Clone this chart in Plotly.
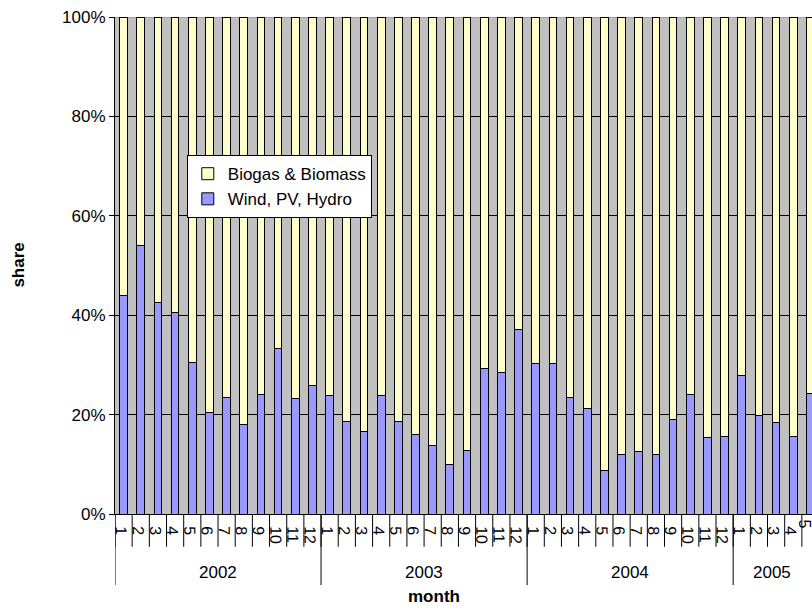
import plotly.graph_objects as go

years = ["2002", "2003", "2004", "2005"]
months_per_year = [12, 12, 12, 5]
month_labels = [str(m) for n in months_per_year for m in range(1, n + 1)]

wind_pv_hydro = [44.0, 54.0, 42.5, 40.5, 30.4, 20.4, 23.5, 18.1, 24.1, 33.4, 23.2, 25.8,
                 23.8, 18.7, 16.7, 23.8, 18.7, 15.9, 13.7, 9.9, 12.7, 29.2, 28.4, 37.2,
                 30.3, 30.3, 23.5, 21.3, 8.7, 11.9, 12.5, 11.9, 19.0, 24.1, 15.4, 15.6,
                 27.8, 19.8, 18.4, 15.6, 24.3]
biogas_biomass = [56.0, 46.0, 57.5, 59.5, 69.6, 79.6, 76.5, 81.9, 75.9, 66.6, 76.8, 74.2,
                  76.2, 81.3, 83.3, 76.2, 81.3, 84.1, 86.3, 90.1, 87.3, 70.8, 71.6, 62.8,
                  69.7, 69.7, 76.5, 78.7, 91.3, 88.1, 87.5, 88.1, 81.0, 75.9, 84.6, 84.4,
                  72.2, 80.2, 81.6, 84.4, 75.7]
y_ticks = [0, 20, 40, 60, 80, 100]
y_tick_labels = ["0%", "20%", "40%", "60%", "80%", "100%"]

FONT = "Liberation Sans, Arial, sans-serif"
x_idx = list(range(len(month_labels)))

fig = go.Figure()
fig.add_trace(go.Bar(x=x_idx, y=wind_pv_hydro, name="Wind, PV, Hydro",
                     marker=dict(color="#9999FF", line=dict(color="#000000", width=1)),
                     width=0.45))
fig.add_trace(go.Bar(x=x_idx, y=biogas_biomass, name="Biogas & Biomass",
                     marker=dict(color="#FFFFCC", line=dict(color="#000000", width=1)),
                     width=0.45))

shapes = []
for k in range(len(month_labels) + 1):
    shapes.append(dict(type="line", xref="x", yref="paper", x0=k - 0.5, x1=k - 0.5,
                       y0=0, y1=-0.066, line=dict(color="#000000", width=1)))
start = 0
year_centers = []
for y, n in zip(years, months_per_year):
    shapes.append(dict(type="line", xref="x", yref="paper", x0=start - 0.5, x1=start - 0.5,
                       y0=0, y1=-0.143, line=dict(color="#000000", width=1)))
    year_centers.append(start + (n - 1) / 2)
    start += n
shapes.append(dict(type="line", xref="paper", yref="y", x0=0, x1=1, y0=100, y1=100,
                   line=dict(color="#808080", width=1), layer="below"))

annotations = []
for y, c in zip(years, year_centers):
    if y == "2005":
        c = 37.75
    annotations.append(dict(text=y, x=c, xref="x", y=-0.117, yref="paper",
                            xanchor="center", yanchor="middle", showarrow=False,
                            font=dict(size=17, color="#000000", family=FONT)))
annotations.append(dict(text="<b>month</b>", x=0.4577, xref="paper", y=-0.166, yref="paper",
                        xanchor="center", yanchor="middle", showarrow=False,
                        font=dict(size=17, color="#000000", family=FONT)))
annotations.append(dict(text="<b>share</b>", x=-0.139, xref="paper", y=0.5, yref="paper",
                        xanchor="center", yanchor="middle", showarrow=False, textangle=-90,
                        font=dict(size=17, color="#000000", family=FONT)))
# last month label sits at the cropped right edge: draw it nudged inside
last = len(month_labels) - 1
annotations.append(dict(text=month_labels[last], x=last, xref="x", y=0, yref="paper",
                        xanchor="right", yanchor="top", xshift=5, yshift=-4,
                        showarrow=False, textangle=90,
                        font=dict(size=16, color="#000000", family=FONT)))

fig.update_layout(
    width=812, height=612,
    margin=dict(l=115, r=0, t=17, b=98, autoexpand=False),
    barmode="stack",
    paper_bgcolor="#FFFFFF",
    plot_bgcolor="#C0C0C0",
    font=dict(family=FONT, size=17, color="#000000"),
    showlegend=True,
    legend=dict(x=0.103, y=0.722, xanchor="left", yanchor="top",
                bgcolor="#FFFFFF", bordercolor="#000000", borderwidth=1,
                traceorder="reversed", font=dict(size=17, family=FONT),
                itemwidth=30),
    xaxis=dict(range=[-0.5, 40.09], tickmode="array", tickvals=x_idx[:-1],
               ticktext=month_labels[:-1],
               tickangle=89.9, showgrid=False, zeroline=False, showline=True,
               linecolor="#000000", linewidth=1, ticks="", tickfont=dict(size=16),
               automargin=False),
    yaxis=dict(range=[0, 100], tickmode="array", tickvals=y_ticks, ticktext=y_tick_labels,
               showgrid=True, gridcolor="#000000", gridwidth=1, zeroline=False,
               showline=True, linecolor="#000000", linewidth=1, ticks="outside",
               ticklen=5, tickcolor="#000000", tickfont=dict(size=17), automargin=False),
    shapes=shapes,
    annotations=annotations,
)

fig.write_html("out.html")
